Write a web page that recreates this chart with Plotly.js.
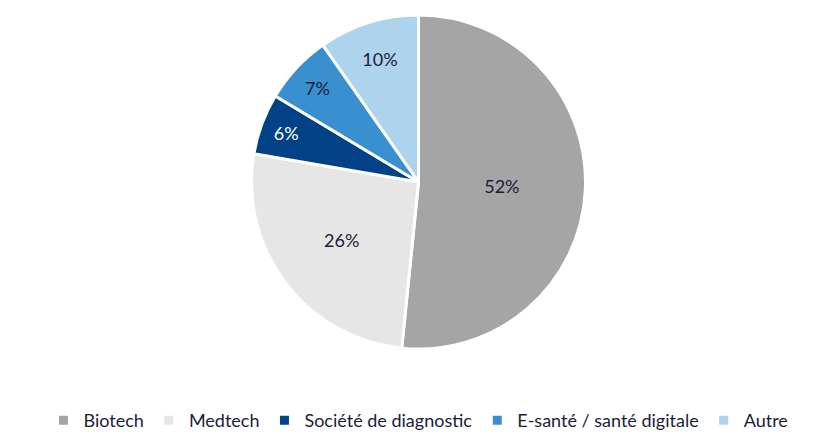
<!DOCTYPE html>
<html>
<head>
<meta charset="utf-8">
<script src="https://cdn.plot.ly/plotly-3.0.1.min.js"></script>
<style>body{margin:0;background:#fff}#chart{width:837px;height:439px}</style>
</head>
<body>
<div id="chart"></div>
<script>
var categories = ["Biotech", "Medtech", "Société de diagnostic", "E-santé / santé digitale", "Autre"];
var shares = [51.6, 26.1, 5.9, 6.7, 9.7];
var colors = ["#A5A5A5", "#E7E6E6", "#004285", "#3A90CF", "#AED3EC"];
var labelColors = ["#1c1c3a", "#1c1c3a", "#ffffff", "#1c1c3a", "#1c1c3a"];

var trace = {
  type: "pie",
  labels: categories,
  values: shares,
  sort: false,
  direction: "clockwise",
  rotation: 0,
  marker: {colors: colors, line: {color: "#ffffff", width: 3}},
  texttemplate: "%{percent:.0%}",
  textposition: "inside",
  insidetextorientation: "horizontal",
  textfont: {family: "Lato, sans-serif", size: 18, color: labelColors},
  hoverinfo: "label+percent",
  domain: {x: [0, 1], y: [0, 1]}
};

var layout = {
  width: 837,
  height: 439,
  margin: {l: 0, r: 0, t: 15, b: 90, autoexpand: false},
  paper_bgcolor: "#ffffff",
  showlegend: true,
  legend: {
    orientation: "h",
    x: 0.5, xanchor: "center",
    yref: "container",
    y: -0.025, yanchor: "bottom",
    font: {family: "Lato, sans-serif", size: 18, color: "#1c1c3a"},
    itemwidth: 30,
    traceorder: "normal"
  }
};

Plotly.newPlot("chart", [trace], layout, {displayModeBar: false});
</script>
</body>
</html>
